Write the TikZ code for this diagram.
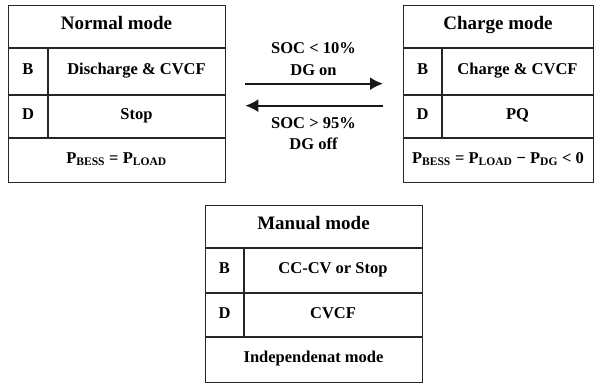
\documentclass[tikz,border=0pt]{standalone}
\usepackage{fontspec}
\setmainfont{Liberation Serif}
\usetikzlibrary{arrows.meta,calc}
\begin{document}
\begin{tikzpicture}[x=1pt,y=-1pt,
 frame/.style={draw=black!85, line width=1.3pt, inner sep=0pt, anchor=north west},
 rule/.style={draw=black!85, line width=1.3pt},
 ttl/.style={font=\bfseries\fontsize{19}{22}\selectfont, inner sep=0pt, text height=0.66em, text depth=0pt},
 txt/.style={font=\bfseries\fontsize{16.5}{19}\selectfont, inner sep=0pt, text height=0.66em, text depth=0pt},
 arr/.style={draw=black!90, line width=2pt, -{Latex[length=13pt,width=13pt]}}]
\useasboundingbox (0,0) rectangle (595,384);
% Normal mode
\node[frame, minimum width=217pt, minimum height=177pt] (N) at (8,5) {};
\draw[rule] (8,48) -- (225,48) (8,95) -- (225,95) (8,138) -- (225,138) (48,48) -- (48,138);
\node[ttl] (Nt) at (116.5,26.5) {Normal mode};
\node[txt] (Nb) at (28,71.5) {B};
\node[txt] (Nbt) at (136.5,71.5) {Discharge \& CVCF};
\node[txt] (Nd) at (28,116.5) {D};
\node[txt] (Ndt) at (136.5,116.5) {Stop};
\node[txt] (Np) at (116.5,160) {P\textsubscript{BESS} = P\textsubscript{LOAD}};
% Charge mode
\node[frame, minimum width=190pt, minimum height=177pt] (C) at (403,5) {};
\draw[rule] (403,48) -- (593,48) (403,95) -- (593,95) (403,138) -- (593,138) (442,48) -- (442,138);
\node[ttl] (Ct) at (498,26.5) {Charge mode};
\node[txt] (Cb) at (422.5,71.5) {B};
\node[txt] (Cbt) at (517.5,71.5) {Charge \& CVCF};
\node[txt] (Cd) at (422.5,116.5) {D};
\node[txt] (Cdt) at (517.5,116.5) {PQ};
\node[txt] (Cp) at (498,160) {P\textsubscript{BESS} = P\textsubscript{LOAD} − P\textsubscript{DG} < 0};
% Manual mode
\node[frame, minimum width=217pt, minimum height=177pt] (M) at (205,205) {};
\draw[rule] (205,248) -- (422,248) (205,293) -- (422,293) (205,337) -- (422,337) (244,248) -- (244,337);
\node[ttl] (Mt) at (313.5,226.5) {Manual mode};
\node[txt] (Mb) at (224.5,270.5) {B};
\node[txt] (Mbt) at (333,270.5) {CC-CV or Stop};
\node[txt] (Md) at (224.5,315) {D};
\node[txt] (Mdt) at (333,315) {CVCF};
\node[txt] (Mp) at (313.5,359.5) {Independenat mode};
% transitions
\draw[arr] ($(N.east)+(19,-10.5)$) -- ($(C.west)+(-20,-10.5)$);
\draw[arr] ($(C.west)+(-20,11.5)$) -- ($(N.east)+(19,11.5)$);
\node[txt] (s1) at (313.5,50) {SOC < 10\%};
\node[txt] (s2) at (313.5,72) {DG on};
\node[txt] (s3) at (313.5,125) {SOC > 95\%};
\node[txt] (s4) at (313.5,146) {DG off};
\end{tikzpicture}
\end{document}
